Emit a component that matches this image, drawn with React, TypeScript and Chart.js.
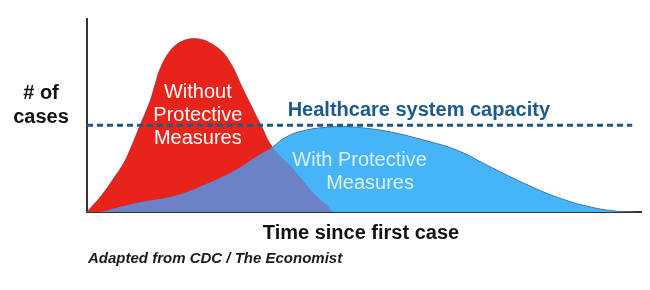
import React, { useEffect, useRef } from "react";
import { Chart, registerables } from "chart.js";

Chart.register(...registerables);

// Time since first case (arbitrary units 0..100) and number of cases (0..100)
const timeWithout = [0, 2.7, 4.9, 6.8, 8.2, 9.7, 11.5, 12.4, 13.3, 15.0, 17.2, 20.0, 22.8, 25.6, 28.7, 31.7, 33.8, 37.4, 41.1, 43.7, 45.1, 100];
const casesWithout = [0, 8.8, 17.6, 25.9, 34.7, 45.1, 57.5, 66.0, 74.0, 82.9, 88.3, 89.8, 87.0, 79.8, 62.2, 45.1, 33.6, 22.8, 10.4, 3.6, 0, 0];

const timeWith = [0, 2.4, 6.0, 9.1, 12.2, 15.2, 18.3, 21.4, 24.2, 27.8, 31.4, 33.8, 36.3, 40.0, 44.2, 47.5, 51.0, 55.4, 61.4, 67.4, 73.6, 79.6, 85.6, 91.8, 96.5, 100];
const casesWith = [0, 0, 2.6, 4.7, 6.2, 7.8, 10.4, 14.0, 17.5, 22.8, 29.5, 33.6, 38.9, 42.5, 44.0, 44.2, 43.4, 41.5, 37.3, 32.1, 23.3, 15.0, 7.8, 2.6, 0.5, 0];

const capacityTime = [0, 99.4];
const capacityCases = [45.0, 45.0];
const crossingTime = 33.8;

const yLabelLines = ["# of", "cases"];
const capacityLabel = "Healthcare system capacity";
const withoutLabelLines = ["Without", "Protective", "Measures"];
const withLabelLines = ["With Protective", "Measures"];
const xTitle = "Time since first case";
const sourceNote = "Adapted from CDC / The Economist";

const RED = "#e8241a";
const LIGHT_BLUE = "#46b5f7";
const SLATE = "#6a82c6";
const CAP_BLUE = "#1d5a8b";
const FONT = "'Liberation Sans', Arial, Helvetica, sans-serif";

const toPoints = (xs: number[], ys: number[]) => xs.map((x, i) => ({ x, y: ys[i] }));

const textPlugin = {
  id: "annotTexts",
  afterDraw(chart: any) {
    const ctx = chart.ctx as CanvasRenderingContext2D;
    const xs = chart.scales.x;
    const ys = chart.scales.y;
    ctx.save();
    ctx.textBaseline = "alphabetic";

    // y label
    ctx.fillStyle = "#111";
    ctx.textAlign = "center";
    ctx.font = `bold 20px ${FONT}`;
    ctx.fillText(yLabelLines[0], 41, 99);
    ctx.fillText(yLabelLines[1], 41, 123);

    // capacity label
    const capY = ys.getPixelForValue(capacityCases[0]);
    ctx.fillStyle = CAP_BLUE;
    ctx.font = `bold 20px ${FONT}`;
    ctx.fillText(capacityLabel, xs.getPixelForValue(60.5), capY - 9);

    // without label
    ctx.fillStyle = "#ffffff";
    ctx.font = `20px ${FONT}`;
    const wx = xs.getPixelForValue(20.2);
    ctx.fillText(withoutLabelLines[0], wx, 98);
    ctx.fillText(withoutLabelLines[1], wx, 121);
    ctx.fillText(withoutLabelLines[2], wx, 144);

    // with label
    ctx.fillStyle = "rgba(232,245,255,0.92)";
    ctx.fillText(withLabelLines[0], xs.getPixelForValue(49.7), 166);
    ctx.fillText(withLabelLines[1], xs.getPixelForValue(51.6), 189);

    // x title
    ctx.fillStyle = "#111";
    ctx.font = `bold 20px ${FONT}`;
    ctx.fillText(xTitle, 361, 239);

    // source
    ctx.textAlign = "left";
    ctx.fillStyle = "#1a1a1a";
    ctx.font = `italic bold 15px ${FONT}`;
    ctx.fillText(sourceNote, 88, 263);
    ctx.restore();
  },
};

export default function App() {
  const canvasRef = useRef<HTMLCanvasElement | null>(null);

  useEffect(() => {
    if (!canvasRef.current) return;
    const transparent = "rgba(0,0,0,0)";
    const chart = new Chart(canvasRef.current, {
      type: "line",
      data: {
        datasets: [
          {
            data: toPoints(timeWithout, casesWithout),
            fill: "origin",
            backgroundColor: SLATE,
            borderWidth: 0,
            borderColor: transparent,
            pointRadius: 0,
            order: 4,
          },
          {
            data: toPoints(timeWith, casesWith),
            fill: "origin",
            backgroundColor: SLATE,
            borderWidth: 0,
            borderColor: transparent,
            pointRadius: 0,
            order: 3,
          },
          {
            data: toPoints(timeWithout, casesWithout),
            fill: { target: 1, above: RED, below: transparent },
            borderWidth: 1,
            borderColor: "rgba(190,25,15,0.6)",
            segment: {
              borderColor: (c: any) => (c.p0.parsed.x < crossingTime ? "rgba(190,25,15,0.6)" : transparent),
            },
            pointRadius: 0,
            order: 2,
          },
          {
            data: toPoints(timeWith, casesWith),
            fill: { target: 0, above: LIGHT_BLUE, below: transparent },
            borderWidth: 1,
            borderColor: "rgba(40,80,120,0.55)",
            segment: {
              borderColor: (c: any) => (c.p0.parsed.x >= crossingTime ? "rgba(40,80,120,0.55)" : transparent),
            },
            pointRadius: 0,
            order: 1,
          },
          {
            data: toPoints(capacityTime, capacityCases),
            fill: false,
            borderColor: CAP_BLUE,
            borderWidth: 3,
            borderDash: [6, 4],
            pointRadius: 0,
            tension: 0,
            order: 0,
          },
        ],
      },
      options: {
        responsive: false,
        animation: false,
        events: [],
        elements: { line: { tension: 0.4 } },
        layout: { padding: { left: 87, top: 19, right: 9, bottom: 78 } },
        plugins: { legend: { display: false }, tooltip: { enabled: false }, title: { display: false } },
        scales: {
          x: {
            type: "linear",
            min: 0,
            max: 101,
            grid: { display: false, drawTicks: false },
            ticks: { display: false },
            border: { display: true, color: "#333", width: 2 },
          },
          y: {
            type: "linear",
            min: 0,
            max: 100,
            grid: { display: false, drawTicks: false },
            ticks: { display: false },
            border: { display: true, color: "#333", width: 2 },
          },
        },
      },
      plugins: [textPlugin],
    } as any);
    return () => chart.destroy();
  }, []);

  return (
    <div style={{ position: "fixed", left: 0, top: 0, width: 650, height: 290, background: "#fff" }}>
      <canvas ref={canvasRef} width={650} height={290} />
    </div>
  );
}
